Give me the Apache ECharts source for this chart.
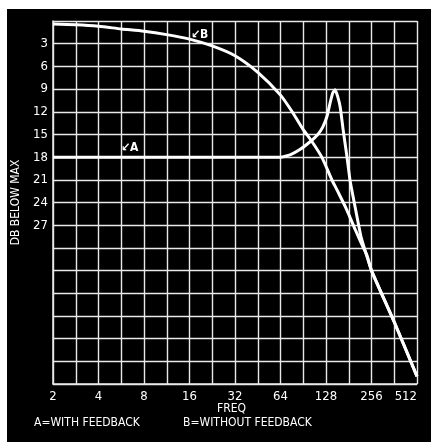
<!DOCTYPE html>
<html><head><meta charset="utf-8">
<script src="https://cdn.jsdelivr.net/npm/echarts@6/dist/echarts.min.js"></script>
<style>html,body{margin:0;padding:0;background:#fff;}#c{width:431px;height:442px;}</style>
</head><body><div id="c"></div>
<script>
// Frequency axis tick labels (octaves) and dB tick labels
const xTickLabels = ['2','4','8','16','32','64','128','256','512'];
const yTickLabels = ['3','6','9','12','15','18','21','24','27'];

// Curve A: with feedback  [freq, dB below max]
const aFreq = [2, 16, 64, 74, 86, 100, 113, 122, 130, 136, 142, 147, 153, 159, 166, 176, 185, 199, 218, 236, 256, 362, 512];
const aDb   = [18, 18, 18, 17.7, 17.0, 16.0, 15.0, 14.0, 12.6, 10.9, 9.5, 9.1, 10.0, 11.4, 14.3, 17.9, 21.2, 24.5, 28.5, 30.8, 33.0, 39.8, 47.0];

// Curve B: without feedback
const bFreq = [2, 2.83, 4, 5.66, 8, 11.3, 16, 22.6, 32, 45.3, 64, 77, 90, 103, 120, 140, 151, 175, 200, 224, 240, 256, 362, 512];
const bDb   = [0.4, 0.5, 0.7, 1.05, 1.35, 1.8, 2.4, 3.3, 4.6, 6.8, 9.8, 12.1, 14.3, 15.9, 18.0, 21.0, 22.3, 24.9, 27.6, 29.8, 31.1, 33.0, 39.8, 47.0];

const FONT = "'DejaVu Sans Condensed', 'Liberation Sans Narrow', 'DejaVu Sans', sans-serif";
const GRIDC = '#e8e8e8';

const chart = echarts.init(document.getElementById('c'), null, {renderer: 'canvas'});
const pair = (xs, ys) => xs.map((x, i) => [x, ys[i]]);

chart.setOption({
  backgroundColor: '#ffffff',
  animation: false,
  graphic: [
    {type: 'rect', z: -10, shape: {x: 7, y: 9, width: 424, height: 433}, style: {fill: '#000'}},
    {type: 'text', left: 217, top: 403, style: {text: 'FREQ', fill: '#fff', font: '12px ' + FONT}},
    {type: 'text', left: 34, top: 417, style: {text: 'A=WITH FEEDBACK', fill: '#fff', font: '12px ' + FONT}},
    {type: 'text', left: 183, top: 417, style: {text: 'B=WITHOUT FEEDBACK', fill: '#fff', font: '12px ' + FONT}},
    {type: 'text', left: 121, top: 142, style: {text: '\u2199A', fill: '#fff', font: 'bold 12px ' + FONT}},
    {type: 'text', left: 191, top: 29, style: {text: '\u2199B', fill: '#fff', font: 'bold 12px ' + FONT}}
  ],
  grid: {left: 53, right: 14, top: 21, bottom: 58, containLabel: false},
  xAxis: [
    {
      type: 'log', logBase: 2, min: 2, max: 512, show: false
    },
    {
      type: 'value', min: 1, max: 9, interval: 0.5, position: 'bottom',
      axisLine: {show: true, lineStyle: {color: GRIDC, width: 1.5}},
      axisTick: {show: false},
      splitLine: {show: true, lineStyle: {color: GRIDC, width: 1.4}},
      axisLabel: {
        color: '#fff', fontFamily: FONT, fontSize: 13, margin: 6, alignMaxLabel: 'right',
        formatter: v => Number.isInteger(v) ? xTickLabels[v - 1] : ''
      }
    }
  ],
  yAxis: {
    type: 'value', inverse: true, min: 0, max: 48, interval: 3,
    name: 'DB BELOW MAX', nameLocation: 'middle', nameGap: 28, nameRotate: 90,
    nameTextStyle: {color: '#fff', fontFamily: FONT, fontSize: 12},
    axisLine: {show: true, lineStyle: {color: GRIDC, width: 1.5}},
    axisTick: {show: false},
    splitLine: {show: true, lineStyle: {color: GRIDC, width: 1.4}},
    axisLabel: {
      color: '#fff', fontFamily: FONT, fontSize: 13, margin: 5,
      formatter: v => yTickLabels.includes(String(v)) ? String(v) : ''
    }
  },
  series: [
    {name: 'A', type: 'line', xAxisIndex: 0, data: pair(aFreq, aDb), showSymbol: false, smooth: 0.15,
     lineStyle: {color: '#fff', width: 3}, z: 5},
    {name: 'B', type: 'line', xAxisIndex: 0, data: pair(bFreq, bDb), showSymbol: false, smooth: 0.25,
     lineStyle: {color: '#fff', width: 3}, z: 5}
  ]
});
</script></body></html>
